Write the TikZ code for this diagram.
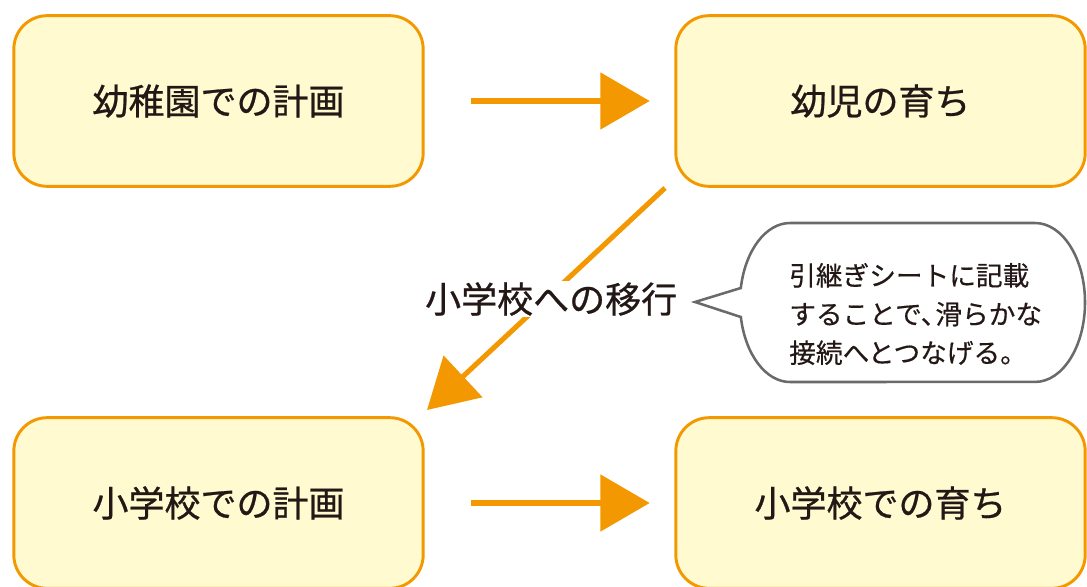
\documentclass[tikz,border=0pt]{standalone}
\usepackage{fontspec}
\newfontfamily\jp[FakeBold=0.7]{Noto Sans CJK JP}
\newfontfamily\jpn[FakeBold=0.4]{Noto Sans CJK JP}
\usetikzlibrary{arrows.meta}
\definecolor{boxfill}{HTML}{FFFACF}
\definecolor{orng}{HTML}{F39800}
\definecolor{ink}{HTML}{231815}
\definecolor{bubgray}{HTML}{6A6A6A}
\begin{document}
\begin{tikzpicture}[x=0.75pt,y=-0.75pt,
  box/.style={draw=orng, line width=2.2pt, fill=boxfill, rounded corners=25pt,
    minimum width=307pt, minimum height=128pt, inner sep=0pt,
    font=\jp\fontsize{27}{32}\selectfont, text=ink},
  flow/.style={draw=orng, line width=3.8pt, -{Triangle[length=37pt,width=42pt]}},
  lbl/.style={font=\jp\fontsize{27}{32}\selectfont, text=ink, fill=white, inner sep=1pt},
  bubble/.style={draw=bubgray, line width=1.9pt, fill=white},
  note/.style={font=\jpn\fontsize{20}{29}\selectfont, text=ink, align=left, inner sep=0pt}]
\useasboundingbox (0,0) rectangle (1087,586);
\node[box] (kp) at (218.5,101) {幼稚園での計画};
\node[box] (kg) at (880.5,101) {幼児の育ち};
\node[box] (sp) at (218.5,503) {小学校での計画};
\node[box] (sg) at (880.5,503) {小学校での育ち};
\draw[flow, shorten <=35pt, shorten >=18.5pt] (kp.east) -- (kg.west);
\draw[flow, shorten <=35pt, shorten >=18.5pt] (sp.east) -- (sg.west);
\coordinate (d1) at (665,188);
\coordinate (d2) at (427,410);
\draw[flow] (d1) -- node[lbl, pos=0.47, yshift=-5pt, xshift=-1.5pt] (tr) {小学校への移行} (d2);
% speech bubble
\draw[bubble] (790,223) -- (1035,223)
  arc[start angle=90, end angle=-90, x radius=37.5pt, y radius=59.6pt]
  -- (790,382)
  arc[start angle=-90, end angle=-169.5, x radius=37.5pt, y radius=59.6pt]
  -- (695,302) -- (740.8,288)
  arc[start angle=169.5, end angle=90, x radius=37.5pt, y radius=59.6pt]
  -- cycle;
\node[note, anchor=west] (nt) at (789,314) {引継ぎシートに記載\\することで、\kern-0.45em 滑らかな\\接続へとつなげる。};
\end{tikzpicture}
\end{document}
